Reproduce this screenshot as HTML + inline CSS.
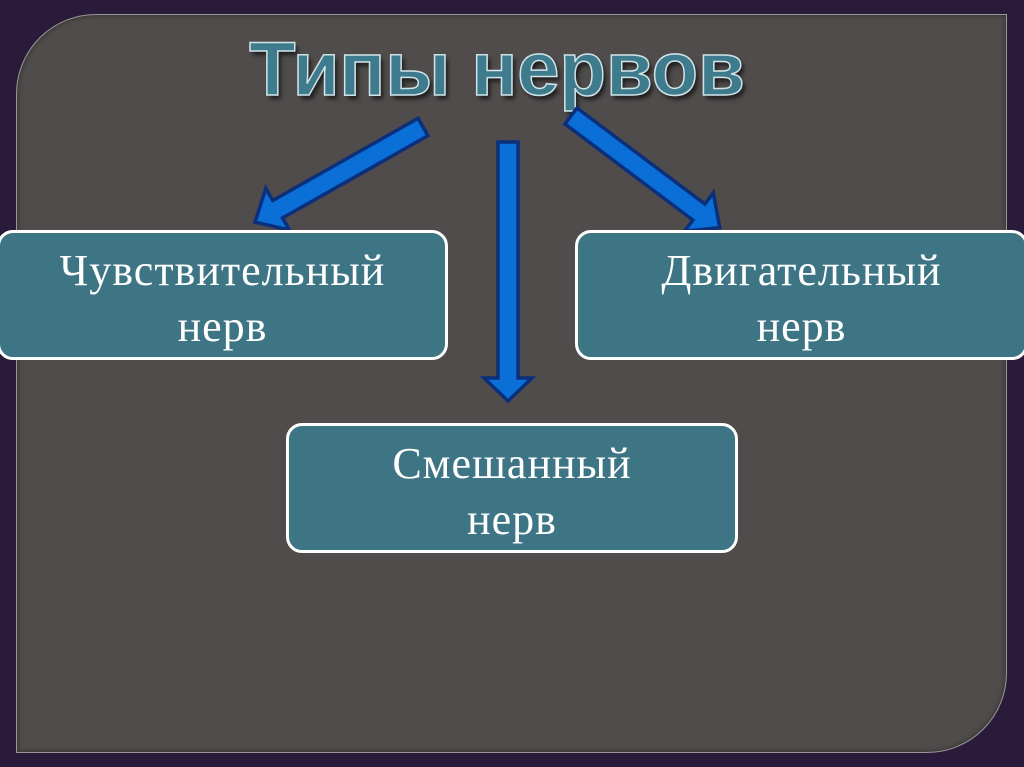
<!DOCTYPE html>
<html><head><meta charset="utf-8"><style>
html,body{margin:0;padding:0;}
body{width:1024px;height:767px;background:#2a1b3b;position:relative;overflow:hidden;font-family:"Liberation Serif",serif;}
.panel{position:absolute;left:16px;top:14px;width:989px;height:737px;background:#4f4c4b;border:1px solid #9a9795;border-radius:80px 0 80px 0;box-shadow:inset 0 0 6px rgba(0,0,0,.4);}
.title{position:absolute;left:0;width:994px;text-align:center;top:26px;font-family:"Liberation Sans",sans-serif;font-weight:bold;font-size:76px;color:#3e7b8d;-webkit-text-stroke:1.5px #cfe3e8;text-shadow:3px 4px 4px rgba(0,0,0,.6);}
.box{position:absolute;background:#3e7585;border:3px solid #fff;border-radius:16px;color:#fff;font-size:44px;letter-spacing:1px;text-align:center;line-height:56px;box-sizing:border-box;padding-top:10px;}
svg{position:absolute;left:0;top:0;}
</style></head><body>
<div class="panel"></div>
<div class="title">Типы нервов</div>
<svg width="1024" height="767">
<g fill="#0a6fd6" stroke="#0c2f7c" stroke-width="3.5" stroke-linejoin="miter">
<g transform="translate(423,127) rotate(150.5)"><polygon points="0,-10 167,-10 167,-24 193,0 167,24 167,10 0,10"/></g>
<g transform="translate(571,116) rotate(36.9)"><polygon points="0,-10 160,-10 160,-24 186,0 160,24 160,10 0,10"/></g>
<g transform="translate(508,142) rotate(90)"><polygon points="0,-10 236,-10 236,-24 259,0 236,24 236,10 0,10"/></g>
</g>
</svg>
<div class="box" style="left:-3px;top:230px;width:451px;height:130px;">Чувствительный<br>нерв</div>
<div class="box" style="left:575px;top:230px;width:453px;height:130px;">Двигательный<br>нерв</div>
<div class="box" style="left:286px;top:423px;width:452px;height:130px;">Смешанный<br>нерв</div>
</body></html>
